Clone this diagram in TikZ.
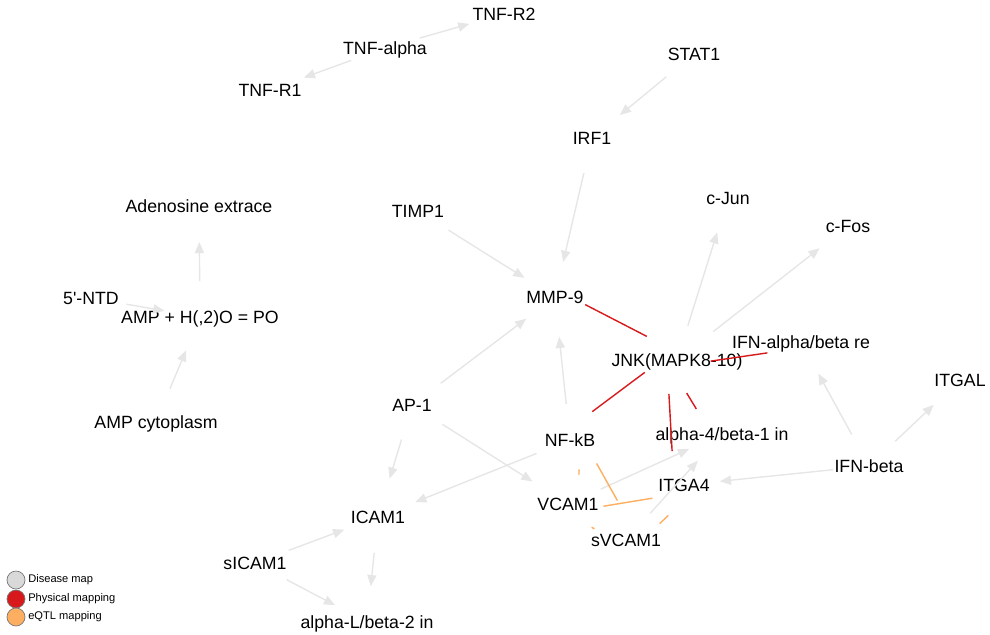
\documentclass[tikz,border=0pt]{standalone}
\usepackage{fontspec}
\setmainfont{Liberation Sans}
\usepackage{tikz}
\usetikzlibrary{arrows.meta,positioning,calc}
\definecolor{diseasegray}{RGB}{230, 230, 230}
\definecolor{physred}{RGB}{215, 25, 28}
\definecolor{eqtlorange}{RGB}{253, 174, 97}
\definecolor{legendgray}{RGB}{217, 217, 217}
\definecolor{ringgray}{RGB}{120, 120, 120}
\tikzstyle{gene} = [inner sep=0, font=\fontsize{12.6}{14}\selectfont, text height=9pt, text depth=0pt]
\tikzstyle{disease} = [draw=diseasegray, line width=1pt, -{Triangle[length=2.8mm,width=2.3mm]}, shorten <=0.9cm, shorten >=0.9cm]
\tikzstyle{physical} = [draw=physred, line width=1pt, shorten <=0.85cm, shorten >=0.85cm]
\tikzstyle{eqtl} = [draw=eqtlorange, line width=1pt, shorten <=0.9cm, shorten >=0.9cm]
\tikzstyle{legenddot} = [circle, draw=ringgray, line width=0.5pt, minimum size=0.45cm, inner sep=0]
\tikzstyle{legendtext} = [inner sep=0, anchor=west, font=\fontsize{7.9}{9}\selectfont]

\begin{document}
\begin{tikzpicture}[x=0.025cm, y=-0.025cm]
    \useasboundingbox (0,0) rectangle (990,634);
    % TNF block
    \node[gene] (TNF R2) at (504,14) {TNF-R2};
    \node[gene] (TNF alpha) at (385,48) {TNF-alpha};
    \node[gene] (TNF R1) at (270,90) {TNF-R1};
    % interferon / MMP side
    \node[gene] (STAT1) at (694,54) {STAT1};
    \node[gene] (IRF1) at (592,138) {IRF1};
    \node[gene] (TIMP1) at (418,211) {TIMP1};
    \node[gene] (cJun) at (728,198) {c-Jun};
    \node[gene] (cFos) at (848,226) {c-Fos};
    \node[gene] (MMP9) at (555,297) {MMP-9};
    \node[gene] (JNK) at (677,360) {JNK(MAPK8-10)};
    \node[gene] (IFN receptor) at (801,342) {IFN-alpha/beta re};
    \node[gene] (ITGAL) at (960,380) {ITGAL};
    \node[gene] (IFN beta) at (869,466) {IFN-beta};
    % adenosine reaction
    \node[gene] (Adenosine) at (199,206) {Adenosine extrace};
    \node[gene] (NTD) at (91,298) {5\textquotesingle-NTD};
    \node[gene] (AMP reaction) at (200,317) {AMP + H(,2)O = PO};
    \node[gene] (AMP cytoplasm) at (156,422) {AMP cytoplasm};
    % adhesion molecules
    \node[gene] (AP1) at (412,405) {AP-1};
    \node[gene] (NFkB) at (570,440) {NF-kB};
    \node[gene] (a4b1) at (722,434) {alpha-4/beta-1 in};
    \node[gene] (ITGA4) at (684,485) {ITGA4};
    \node[gene] (VCAM1) at (568,504) {VCAM1};
    \node[gene] (sVCAM1) at (626,540) {sVCAM1};
    \node[gene] (ICAM1) at (378,517) {ICAM1};
    \node[gene] (sICAM1) at (255,563) {sICAM1};
    \node[gene] (aLb2) at (367,622) {alpha-L/beta-2 in};

    % disease map edges
    \draw[disease] (TNF alpha.center) -- (TNF R2.center);
    \draw[disease] (TNF alpha.center) -- (TNF R1.center);
    \draw[disease] (STAT1.center) -- (IRF1.center);
    \draw[disease] (IRF1.center) -- (MMP9.center);
    \draw[disease] (TIMP1.center) -- (MMP9.center);
    \draw[disease] (AP1.center) -- (MMP9.center);
    \draw[disease, shorten >=1cm] (NFkB.center) -- (MMP9.center);
    \draw[disease] (JNK.center) -- (cJun.center);
    \draw[disease, shorten <=1.15cm] (JNK.center) -- (cFos.center);
    \draw[disease] (AMP reaction.center) -- (Adenosine.center);
    \draw[disease] (NTD.center) -- (AMP reaction.center);
    \draw[disease] (AMP cytoplasm.center) -- (AMP reaction.center);
    \draw[disease, shorten >=1cm] (AP1.center) -- (ICAM1.center);
    \draw[disease, shorten >=1.05cm] (AP1.center) -- (VCAM1.center);
    \draw[disease, shorten >=1cm] (NFkB.center) -- (ICAM1.center);
    \draw[disease] (sICAM1.center) -- (ICAM1.center);
    \draw[disease] (sICAM1.center) -- (aLb2.center);
    \draw[disease] (ICAM1.center) -- (aLb2.center);
    \draw[disease] (VCAM1.center) -- (a4b1.center);
    \draw[disease] (sVCAM1.center) -- (a4b1.center);
    \draw[disease] (IFN beta.center) -- (ITGA4.center);
    \draw[disease] (IFN beta.center) -- (IFN receptor.center);
    \draw[disease] (IFN beta.center) -- (ITGAL.center);

    % physical mapping
    \draw[physical] ([shift={(0,-8)}]MMP9.center) -- ([shift={(0,-8)}]JNK.center);
    \draw[physical] ([shift={(-5,-8)}]JNK.center) -- ([shift={(-5,-8)}]NFkB.center);
    \draw[physical] ([shift={(0,6)}]JNK.center) -- ([shift={(0,6)}]IFN receptor.center);
    \draw[physical] ([shift={(-10,0)}]JNK.center) -- ([shift={(-10,0)}]ITGA4.center);
    \draw[physical] ([shift={(-8,4)}]JNK.center) -- ([shift={(-8,4)}]a4b1.center);

    % eQTL mapping
    \draw[eqtl] ([shift={(9,-8)}]NFkB.center) -- ([shift={(9,-8)}]sVCAM1.center);
    \draw[eqtl, shorten >=0.8cm] ([shift={(0,8)}]VCAM1.center) -- ([shift={(0,8)}]ITGA4.center);
    \draw[eqtl, shorten <=0.85cm, shorten >=0.85cm] ([shift={(9,7)}]ITGA4.center) -- ([shift={(9,7)}]sVCAM1.center);
    \draw[eqtl, shorten <=0.7375cm, shorten >=0.7375cm] ([shift={(10,0)}]NFkB.center) -- ([shift={(10,0)}]VCAM1.center);
    \draw[eqtl, shorten <=0.8125cm, shorten >=0.8125cm] ([shift={(-4,6)}]VCAM1.center) -- ([shift={(-4,6)}]sVCAM1.center);

    % legend
    \node[legenddot, fill=legendgray] (Disease dot) at (16,580) {};
    \node[legenddot, fill=physred] (Physical dot) at (16,599) {};
    \node[legenddot, fill=eqtlorange] (eQTL dot) at (16,617) {};
    \node[legendtext] (Disease label) at (28,580) {Disease map};
    \node[legendtext] (Physical label) at (28,599) {Physical mapping};
    \node[legendtext] (eQTL label) at (28,617) {eQTL mapping};
\end{tikzpicture}
\end{document}
